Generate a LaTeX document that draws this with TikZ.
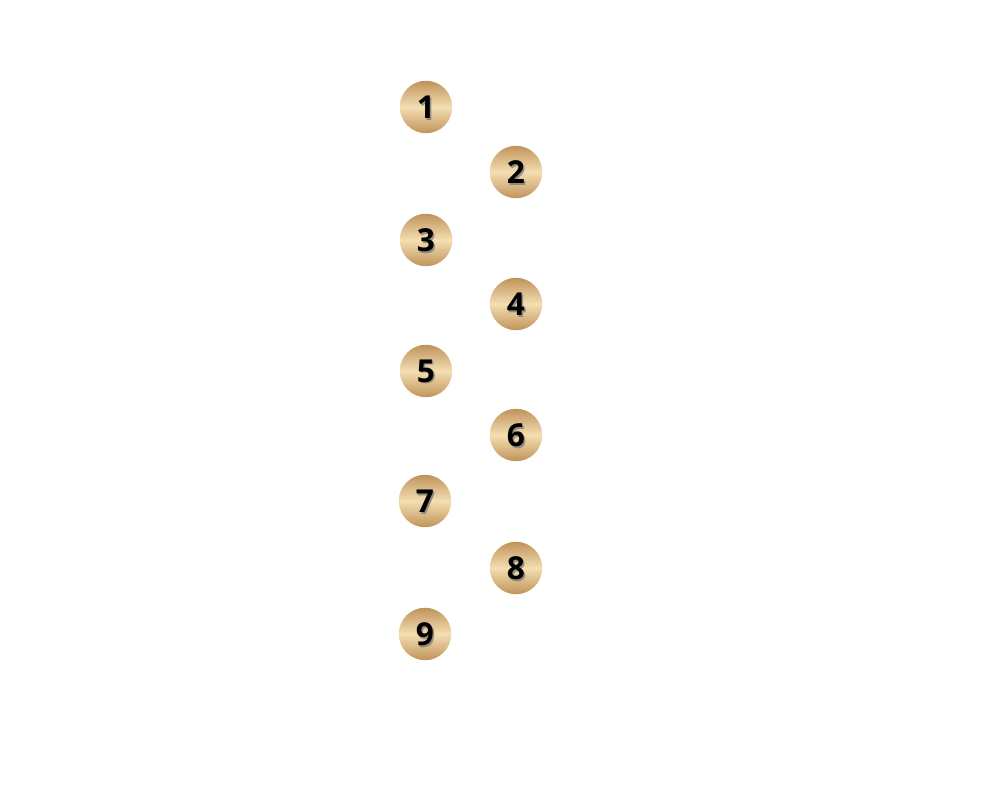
\documentclass[tikz,border=0pt]{standalone}
\usepackage{fontspec}
\setmainfont{Open Sans}
\begin{document}
\begin{tikzpicture}[x=0.02cm,y=-0.02cm,
  ball/.style={circle,minimum size=1.05cm,inner sep=0pt,
    top color=goldD,bottom color=goldD,middle color=goldL,shading angle=0},
  num/.style={font=\fontsize{18}{21}\selectfont\bfseries,text=black},
  shade/.style={font=\fontsize{18}{21}\selectfont\bfseries,text=black!55,opacity=0.7}]
\definecolor{goldD}{HTML}{BF935A}
\definecolor{goldL}{HTML}{F4DEB2}
\useasboundingbox (0,0) rectangle (1000,800);
\foreach \i/\x/\y in {1/426/107,2/516/172,3/426/240,4/516/304,5/426/371,6/516/435,7/425/501,8/516/568,9/425/634}{
  \node[ball] (b\i) at (\x,\y) {};
  \node[shade] (s\i) at ([xshift=0.8pt,yshift=-1pt]b\i.center) {\i};
  \node[num] (n\i) at (b\i.center) {\i};
}
\end{tikzpicture}
\end{document}
